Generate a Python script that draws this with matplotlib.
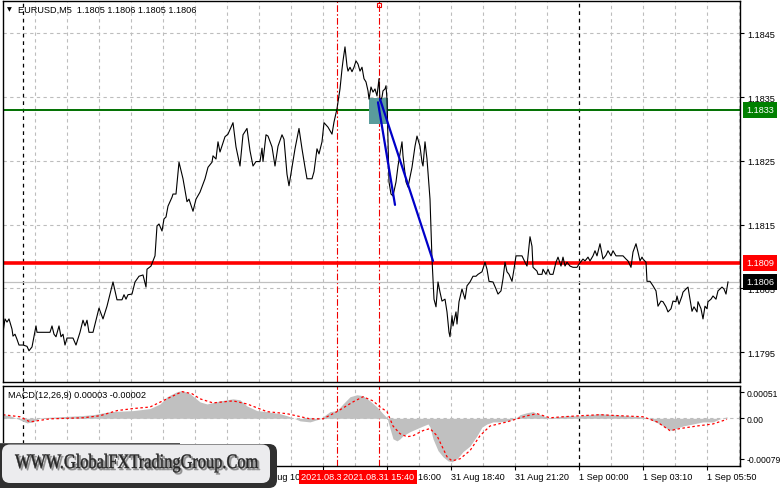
import matplotlib
matplotlib.use('Agg')
import matplotlib.pyplot as plt
from matplotlib.transforms import IdentityTransform, blended_transform_factory, Affine2D
from matplotlib.patches import FancyBboxPatch, Rectangle, PathPatch
from matplotlib.textpath import TextPath
from matplotlib.font_manager import FontProperties

# ---------------- data ----------------
price_bars = [0, 1, 2, 3, 4.5, 5, 6, 7, 8, 10, 12, 13, 14.5, 16.5, 17, 23.5, 24.5, 25.5, 26.5, 28, 29, 30, 31, 32,
              35, 36.5, 38.5, 40, 41, 42, 43, 45, 48, 50, 52, 55, 57, 59.5, 60.5, 61.5, 62.5, 64.5, 66, 68, 70,
              71.5, 72, 74, 75, 76, 77, 78, 79.5, 80.5, 81.5, 82.5, 84.5, 85, 86.5, 88, 90, 92, 93, 95, 96.5,
              98.5, 101, 102.5, 104.5, 105, 106.5, 107.5, 108.5, 111, 112.5, 115, 116.5, 118.5, 120, 122, 123.5,
              125, 126.5, 128.5, 129.5, 130, 131.5, 132.5, 134.5, 136, 137.5, 139.5, 140.5, 142, 143, 144.5, 146,
              148, 149.5, 151, 152, 154.5, 155.5, 157, 158, 159.5, 160.5, 162.5, 164.5, 165.5, 167, 168.5, 169.5,
              170, 171, 172, 172.5, 173.5, 174.5, 175.5, 176.5, 177.5, 178.5, 179.5, 180.5, 181.5, 182.5, 183,
              184, 185, 186, 187, 188, 188.5, 189.5, 190, 191, 191.5, 192, 192.5, 193, 194, 195, 196.5, 197.5,
              199.5, 200, 201.5, 202.5, 204.5, 206, 207, 208.5, 209.5, 210, 211, 212, 213.5, 214.5, 215.5, 216.5,
              217.5, 218.5, 219.5, 221, 222, 223, 223.5, 224.5, 225, 226.5, 227, 228, 229.5, 231, 232, 233.5, 235,
              236.5, 237.5, 239.5, 241, 242, 243, 245, 246.5, 247.5, 249, 250, 251, 252, 253, 254.5, 255.5, 256.5,
              259.5, 261, 262, 263.5, 264.5, 265, 267, 267.5, 269.5, 270, 271.5, 272.5, 273.5, 275, 276.5, 277.5,
              279, 280, 281, 282, 283.5, 285, 287, 288, 290, 291, 292.5, 293.5, 295, 296, 297, 298.5, 300, 301.5,
              302.5, 304, 305, 306.5, 310, 311.5, 312.5, 314, 315, 316.5, 317.5, 318.5, 319.5, 320, 321.5, 322,
              323.5, 325, 326.5, 327.5, 329, 330, 331.5, 332.5, 334, 335, 336.5, 337, 338, 339.5, 340, 341.5,
              342.5, 343.5, 344.5, 345.5, 347, 347.5, 349, 350, 351, 352, 352.5, 354, 355, 356.5, 357.5, 359.5,
              360.5, 361.5, 362.5]
price_close = [1.17981, 1.18002, 1.17997, 1.18002, 1.17986, 1.17975, 1.17978, 1.17970, 1.17961, 1.17961, 1.17959,
               1.17952, 1.17958, 1.17991, 1.17981, 1.17981, 1.17991, 1.17978, 1.17974, 1.17991, 1.17974, 1.17978,
               1.17961, 1.17972, 1.17972, 1.17961, 1.17981, 1.18000, 1.17991, 1.18000, 1.17981, 1.17981, 1.18019,
               1.18002, 1.18022, 1.18060, 1.18032, 1.18032, 1.18040, 1.18033, 1.18040, 1.18041, 1.18060, 1.18069,
               1.18071, 1.18052, 1.18080, 1.18085, 1.18093, 1.18101, 1.18148, 1.18151, 1.18140, 1.18159, 1.18162,
               1.18179, 1.18193, 1.18198, 1.18198, 1.18248, 1.18222, 1.18186, 1.18190, 1.18171, 1.18190, 1.18201,
               1.18222, 1.18240, 1.18248, 1.18258, 1.18253, 1.18280, 1.18264, 1.18288, 1.18292, 1.18310, 1.18272,
               1.18242, 1.18291, 1.18301, 1.18266, 1.18242, 1.18249, 1.18249, 1.18270, 1.18249, 1.18291, 1.18289,
               1.18272, 1.18242, 1.18273, 1.18291, 1.18284, 1.18229, 1.18211, 1.18240, 1.18269, 1.18301, 1.18269,
               1.18240, 1.18222, 1.18222, 1.18233, 1.18269, 1.18261, 1.18280, 1.18310, 1.18303, 1.18292, 1.18311,
               1.18332, 1.18363, 1.18394, 1.18407, 1.18429, 1.18399, 1.18391, 1.18397, 1.18390, 1.18397, 1.18407,
               1.18402, 1.18391, 1.18397, 1.18379, 1.18374, 1.18360, 1.18347, 1.18366, 1.18358, 1.18363, 1.18352,
               1.18379, 1.18344, 1.18350, 1.18360, 1.18363, 1.18368, 1.18347, 1.18284, 1.18217, 1.18198, 1.18195,
               1.18217, 1.18242, 1.18280, 1.18258, 1.18217, 1.18209, 1.18240, 1.18273, 1.18289, 1.18273, 1.18248,
               1.18242, 1.18280, 1.18253, 1.18190, 1.18096, 1.18033, 1.18021, 1.18060, 1.18044, 1.18030, 1.18033,
               1.18013, 1.17981, 1.17974, 1.18007, 1.17991, 1.18013, 1.17994, 1.18029, 1.18049, 1.18033, 1.18054,
               1.18060, 1.18069, 1.18069, 1.18072, 1.18076, 1.18091, 1.18080, 1.18061, 1.18060, 1.18049, 1.18041,
               1.18046, 1.18065, 1.18091, 1.18076, 1.18072, 1.18061, 1.18080, 1.18101, 1.18101, 1.18091, 1.18085,
               1.18131, 1.18116, 1.18083, 1.18077, 1.18072, 1.18072, 1.18080, 1.18072, 1.18080, 1.18072, 1.18072,
               1.18091, 1.18099, 1.18085, 1.18099, 1.18085, 1.18091, 1.18085, 1.18083, 1.18083, 1.18088, 1.18096,
               1.18093, 1.18099, 1.18093, 1.18101, 1.18109, 1.18101, 1.18120, 1.18096, 1.18102, 1.18109, 1.18101,
               1.18109, 1.18101, 1.18101, 1.18096, 1.18093, 1.18083, 1.18107, 1.18120, 1.18107, 1.18093, 1.18099,
               1.18096, 1.18091, 1.18061, 1.18061, 1.18054, 1.18046, 1.18022, 1.18030, 1.18029, 1.18021, 1.18013,
               1.18018, 1.18030, 1.18029, 1.18038, 1.18025, 1.18038, 1.18044, 1.18049, 1.18052, 1.18033, 1.18014,
               1.18021, 1.18013, 1.18029, 1.18018, 1.18002, 1.18022, 1.18018, 1.18029, 1.18033, 1.18038, 1.18033,
               1.18046, 1.18052, 1.18049, 1.18041, 1.18060]

macd_bars = [0, 3.5, 8.5, 12, 15, 18.5, 28.5, 38.5, 45, 53.5, 65, 73.5, 78.5, 82, 87, 89.5, 93.5, 98.5, 102,
             108.5, 115, 118.5, 122, 127, 132, 138.5, 142, 145, 148.5, 153.5, 158.5, 163.5, 167, 170, 173.5, 177,
             180, 183.5, 187, 190, 192, 193.5, 195, 197, 198.5, 200, 203.5, 207, 210, 212.5, 213.5, 215, 217.5,
             220, 222.5, 224.5, 227, 230, 233.5, 237, 239.5, 242, 245, 248.5, 252.5, 256, 258.5, 262, 265, 267,
             270, 273.5, 277, 282, 288.5, 293.5, 298.5, 305, 312, 318.5, 322, 325, 328.5, 332, 334.5, 337, 340,
             345, 350, 355, 358.5, 362]
macd_main = [0.00007, 0.00005, -0.00003, -0.00009, -0.00007, 0.00001, 0.00003, 0.00005, 0.00007, 0.00013,
             0.00015, 0.00019, 0.00028, 0.00042, 0.00052, 0.00054, 0.00048, 0.00032, 0.00028, 0.00034, 0.00038,
             0.00036, 0.00024, 0.00015, 0.00013, 0.00009, 0.00005, 0.00001, -0.00005, -0.00007, -0.00001, 0.00013,
             0.00015, 0.00028, 0.00042, 0.00046, 0.00044, 0.00034, 0.00022, 0.00009, 0.00001, -0.00020, -0.00040,
             -0.00044, -0.00040, -0.00034, -0.00026, -0.00020, -0.00015, -0.00011, -0.00017, -0.00040, -0.00063,
             -0.00075, -0.00083, -0.00085, -0.00079, -0.00065, -0.00054, -0.00034, -0.00017, -0.00011, -0.00007,
             -0.00007, -0.00005, -0.00001, 0.00007, 0.00011, 0.00013, 0.00009, 0.00005, 0.00001, 0.00003, 0.00005,
             0.00005, 0.00007, 0.00009, 0.00007, 0.00005, 0.00003, 0.00001, -0.00005, -0.00011, -0.00020, -0.00024,
             -0.00019, -0.00015, -0.00011, -0.00007, -0.00007, -0.00001, 0.00003]
signal_bars = [0, 8.5, 13.5, 23.5, 40, 48.5, 57, 65, 73.5, 82, 89.5, 94.5, 98.5, 105, 115, 122, 132, 142, 153.5,
               160, 167, 175, 180, 185, 188.5, 192, 195, 198.5, 202, 205, 210, 213.5, 217, 222, 224.5, 228.5, 233.5,
               238.5, 243.5, 252, 257, 262, 267, 273.5, 280, 288.5, 298.5, 308.5, 320, 327, 333.5, 338.5, 347, 355,
               362]
macd_signal = [0.00007, 0.00003, -0.00007, -0.00001, 0.00001, 0.00005, 0.00015, 0.00019, 0.00022, 0.00038,
               0.00052, 0.00048, 0.00038, 0.00030, 0.00034, 0.00028, 0.00013, 0.00009, -0.00001, -0.00001, 0.00013,
               0.00032, 0.00042, 0.00034, 0.00022, 0.00013, -0.00015, -0.00030, -0.00036, -0.00034, -0.00024,
               -0.00020, -0.00034, -0.00075, -0.00083, -0.00079, -0.00063, -0.00034, -0.00015, -0.00007, -0.00001,
               0.00005, 0.00009, 0.00001, 0.00003, 0.00005, 0.00007, 0.00005, 0.00003, -0.00007, -0.00024, -0.00020,
               -0.00015, -0.00011, -0.00002]

price_ticks = [1.1795, 1.1805, 1.1815, 1.1825, 1.1835, 1.1845]
macd_ticks = [-0.00079, 0.0, 0.00051]
macd_tick_labels = ['-0.00079', '0.00', '0.00051']
time_tick_bars = [128, 160, 192, 224, 256, 288, 320, 352]
time_tick_labels = ['31 Aug 10:40', '', '31 Aug 16:00', '31 Aug 18:40', '31 Aug 21:20',
                    '1 Sep 00:00', '1 Sep 03:10', '1 Sep 05:50']
day_sep_bars = [10, 288]
vline_bars = [167, 188]
vline_labels = ['2021.08.31 13:55', '2021.08.31 15:40']
green_level = 1.1833
red_level = 1.1809
bid_level = 1.1806
zone_bar0, zone_bar1 = 183, 192.5
zone_low, zone_high = 1.18308, 1.18349
trend1 = ([187.5, 196], [1.18342, 1.18181])
trend2 = ([188.5, 215], [1.18347, 1.18093])
title = 'EURUSD,M5  1.1805 1.1806 1.1805 1.1806'
macd_title = 'MACD(12,26,9) 0.00003 -0.00002'
watermark = 'WWW.GlobalFXTradingGroup.Com'

# ---------------- figure ----------------
plt.rcParams['font.family'] = ['Liberation Sans', 'DejaVu Sans']
plt.rcParams['font.size'] = 6.6

W, H = 781, 489
fig = plt.figure(figsize=(W / 100, H / 100), dpi=100)
fig.patch.set_facecolor('white')


def fx(px):
    return px / W


def fy(py):
    return 1 - py / H


ax = fig.add_axes([fx(3), fy(383), fx(740) - fx(3), fy(2) - fy(383)])
axm = fig.add_axes([fx(3), fy(467), fx(740) - fx(3), fy(387) - fy(467)])

XMAX = 368.5
ax.set_xlim(0, XMAX)
axm.set_xlim(0, XMAX)
ax.set_ylim(1.17903, 1.18501)
axm.set_ylim(-0.00093, 0.00063)

GRID = '#bdbdbd'
for a in (ax, axm):
    for b in range(16, 369, 16):
        if b in day_sep_bars:
            continue
        a.axvline(b, color=GRID, lw=0.8, ls=(0, (3, 3)), zorder=0.5)
    for b in day_sep_bars:
        a.axvline(b, color='black', lw=0.9, ls=(0, (3, 3)), zorder=0.6)
    for b in vline_bars:
        a.axvline(b, color='#f00000', lw=0.8, ls=(0, (6, 2, 1.5, 2)), zorder=0.7)
    for s in a.spines.values():
        s.set_linewidth(1.0)
        s.set_color('black')

for p in price_ticks:
    ax.axhline(p, color=GRID, lw=0.8, ls=(0, (3, 3)), zorder=0.5)
axm.axhline(0, color=GRID, lw=0.8, ls=(0, (3, 3)), zorder=0.5)

ax.axhline(bid_level, color='#c0c0c0', lw=0.9, zorder=1)
ax.axhline(green_level, color='#007000', lw=1.4, zorder=2)
ax.axhline(red_level, color='#ff0000', lw=2.6, zorder=2)

ax.add_patch(Rectangle((zone_bar0, zone_low), zone_bar1 - zone_bar0, zone_high - zone_low,
                       fc='#5a9c9c', ec='none', zorder=2.5))
ax.plot(price_bars, price_close, color='black', lw=0.8, zorder=3)
ax.plot(trend1[0], trend1[1], color='#0000c8', lw=1.6, zorder=4, solid_capstyle='round')
ax.plot(trend2[0], trend2[1], color='#0000c8', lw=1.6, zorder=4, solid_capstyle='round')
ax.plot([vline_bars[1]], [1.18494], marker='s', ms=2.5, mfc='none', mec='#f00000', mew=0.8,
        clip_on=False, zorder=5)

ax.yaxis.tick_right()
ax.set_yticks(price_ticks)
ax.set_yticklabels([f'{p:.4f}' for p in price_ticks])
ax.tick_params(axis='y', length=3, pad=2, width=0.8)
ax.set_xticks([])

axm.fill_between(macd_bars, macd_main, 0, color='#c0c0c0', lw=0, zorder=1)
axm.plot(signal_bars, macd_signal, color='#ff0000', lw=0.9, ls=(0, (2, 2)), zorder=2)
axm.yaxis.tick_right()
axm.set_yticks(macd_ticks)
axm.set_yticklabels(macd_tick_labels)
axm.tick_params(axis='y', length=3, pad=1.5, width=0.8, labelsize=6.2)
axm.set_xticks(time_tick_bars)
axm.set_xticklabels(time_tick_labels)
for lbl in axm.get_xticklabels():
    lbl.set_ha('left')
axm.tick_params(axis='x', length=3, pad=1.5, width=0.8)

# titles
fig.text(fx(9), fy(10), '\u25bc', fontsize=4.5, ha='center', va='center', family=['DejaVu Sans'])
fig.text(fx(18), fy(10), title, ha='left', va='center')
fig.text(fx(8), fy(396), macd_title, ha='left', va='center')

# right-side level labels
trans = blended_transform_factory(fig.transFigure, ax.transData)
for lvl, col in ((green_level, '#008000'), (red_level, '#ff0000'), (bid_level, '#000000')):
    fig.text(fx(746), lvl, f'{lvl:.4f}', transform=trans, ha='left', va='center', color='white',
             bbox=dict(boxstyle='square,pad=0.38', fc=col, ec='none'), zorder=6)

# vertical line time labels
for i, (b, lab) in enumerate(zip(vline_bars, vline_labels)):
    xdisp = axm.transData.transform((b, 0))[0]
    fig.text(xdisp / W, fy(478), lab, ha='center', va='center', color='white',
             bbox=dict(boxstyle='square,pad=0.25', fc='#ff0000', ec='none'), zorder=7 + i)

# watermark
dark = FancyBboxPatch((-10, 0), 287, 44, boxstyle='round,pad=0,rounding_size=8',
                      transform=IdentityTransform(), fc='#303030', ec='none', zorder=10)
light = FancyBboxPatch((2, 5), 268, 38.5, boxstyle='round,pad=0,rounding_size=8',
                       transform=IdentityTransform(), fc='#ececee', ec='none', zorder=11)
fig.add_artist(dark)
fig.add_artist(light)
fig.add_artist(Rectangle((0, 44), 180, 1.2, transform=IdentityTransform(), fc='#555555', ec='none', zorder=10))
fp = FontProperties(family='Liberation Serif')
tp = TextPath((0, 0), watermark, size=20.5, prop=fp)
bb = tp.get_extents()
sx = 243 / bb.width
sh = PathPatch(tp, transform=Affine2D().scale(sx, 1.0).translate(15 - bb.x0 * sx + 1.8, 18.2),
               fc='#7a7a7a', ec='#7a7a7a', lw=0.8, alpha=0.6, zorder=12)
tx = PathPatch(tp, transform=Affine2D().scale(sx, 1.0).translate(15 - bb.x0 * sx, 20),
               fc='#262626', ec='#262626', lw=0.3, zorder=13)
fig.add_artist(sh)
fig.add_artist(tx)

fig.savefig('out.png', dpi=100)
